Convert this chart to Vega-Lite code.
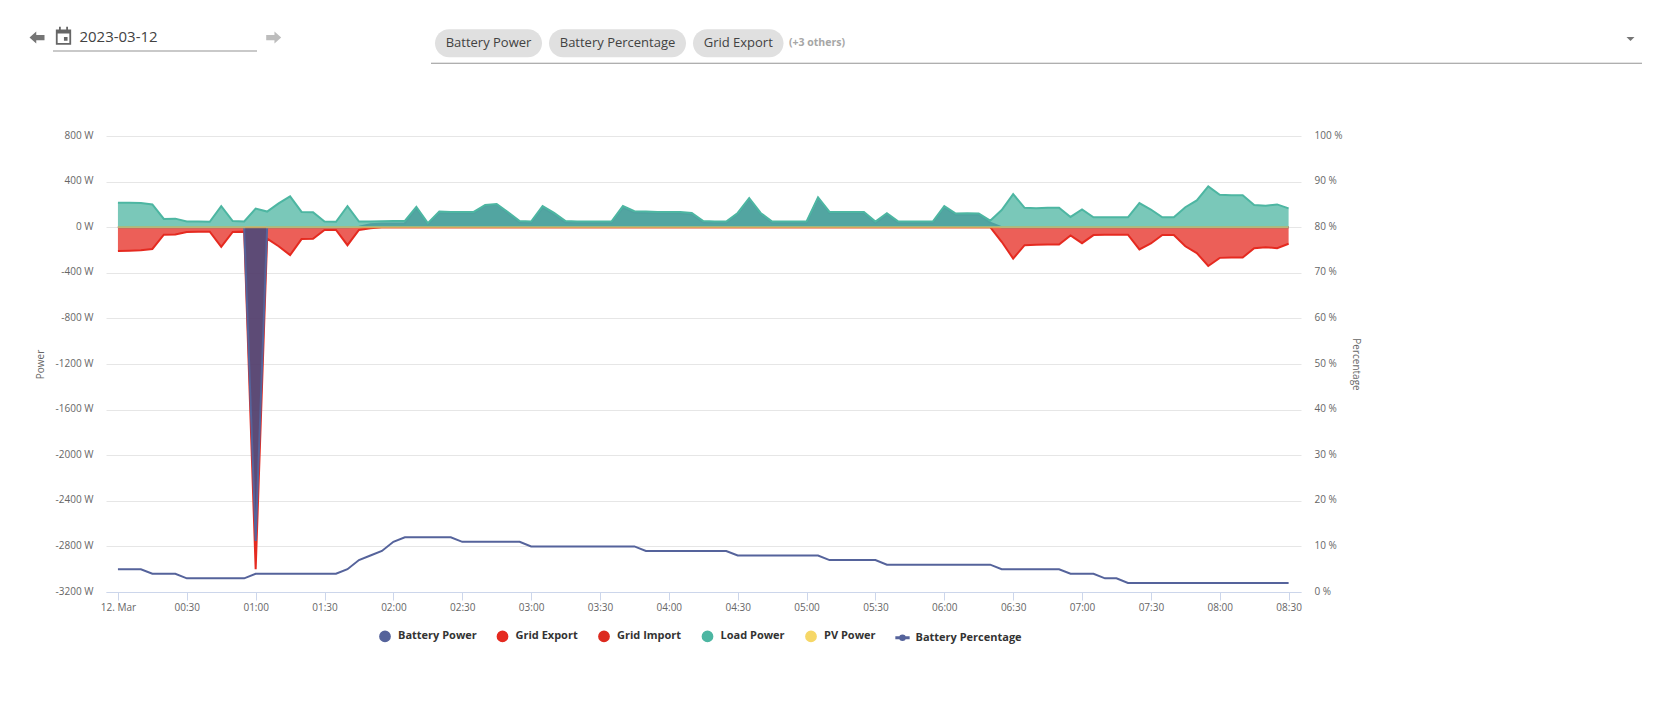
{
"$schema":"https://vega.github.io/schema/vega-lite/v6.json",
"width":1195,"height":456,
"autosize":{"type":"none"},
"padding":{"left":106,"top":136,"right":357,"bottom":135},
"background":"white",
"config":{"view":{"stroke":null},"font":"Open Sans"},
"datasets":{
"power":[
{"time":"2023-03-12T00:00:00Z","Battery Power":0,"Grid Export":-209,"Grid Import":0,"Load Power":215,"PV Power":0,"Battery Percentage":5},
{"time":"2023-03-12T00:05:00Z","Battery Power":0,"Grid Export":-207,"Grid Import":0,"Load Power":215,"PV Power":0,"Battery Percentage":5},
{"time":"2023-03-12T00:10:00Z","Battery Power":0,"Grid Export":-203,"Grid Import":0,"Load Power":212,"PV Power":0,"Battery Percentage":5},
{"time":"2023-03-12T00:15:00Z","Battery Power":0,"Grid Export":-191,"Grid Import":0,"Load Power":200,"PV Power":0,"Battery Percentage":4},
{"time":"2023-03-12T00:20:00Z","Battery Power":0,"Grid Export":-66,"Grid Import":0,"Load Power":72,"PV Power":0,"Battery Percentage":4},
{"time":"2023-03-12T00:25:00Z","Battery Power":0,"Grid Export":-63,"Grid Import":0,"Load Power":75,"PV Power":0,"Battery Percentage":4},
{"time":"2023-03-12T00:30:00Z","Battery Power":0,"Grid Export":-42,"Grid Import":0,"Load Power":50,"PV Power":0,"Battery Percentage":3},
{"time":"2023-03-12T00:35:00Z","Battery Power":0,"Grid Export":-39,"Grid Import":0,"Load Power":50,"PV Power":0,"Battery Percentage":3},
{"time":"2023-03-12T00:40:00Z","Battery Power":0,"Grid Export":-39,"Grid Import":0,"Load Power":48,"PV Power":0,"Battery Percentage":3},
{"time":"2023-03-12T00:45:00Z","Battery Power":0,"Grid Export":-173,"Grid Import":0,"Load Power":185,"PV Power":0,"Battery Percentage":3},
{"time":"2023-03-12T00:50:00Z","Battery Power":0,"Grid Export":-42,"Grid Import":0,"Load Power":54,"PV Power":0,"Battery Percentage":3},
{"time":"2023-03-12T00:55:00Z","Battery Power":0,"Grid Export":-39,"Grid Import":0,"Load Power":50,"PV Power":0,"Battery Percentage":3},
{"time":"2023-03-12T01:00:00Z","Battery Power":-2752,"Grid Export":-3000,"Grid Import":0,"Load Power":164,"PV Power":0,"Battery Percentage":4},
{"time":"2023-03-12T01:05:00Z","Battery Power":0,"Grid Export":-100,"Grid Import":0,"Load Power":137,"PV Power":0,"Battery Percentage":4},
{"time":"2023-03-12T01:10:00Z","Battery Power":0,"Grid Export":-167,"Grid Import":0,"Load Power":209,"PV Power":0,"Battery Percentage":4},
{"time":"2023-03-12T01:15:00Z","Battery Power":0,"Grid Export":-245,"Grid Import":0,"Load Power":270,"PV Power":0,"Battery Percentage":4},
{"time":"2023-03-12T01:20:00Z","Battery Power":0,"Grid Export":-104,"Grid Import":0,"Load Power":134,"PV Power":0,"Battery Percentage":4},
{"time":"2023-03-12T01:25:00Z","Battery Power":0,"Grid Export":-101,"Grid Import":0,"Load Power":131,"PV Power":0,"Battery Percentage":4},
{"time":"2023-03-12T01:30:00Z","Battery Power":0,"Grid Export":-24,"Grid Import":0,"Load Power":50,"PV Power":0,"Battery Percentage":4},
{"time":"2023-03-12T01:35:00Z","Battery Power":0,"Grid Export":-24,"Grid Import":0,"Load Power":48,"PV Power":0,"Battery Percentage":4},
{"time":"2023-03-12T01:40:00Z","Battery Power":0,"Grid Export":-158,"Grid Import":0,"Load Power":185,"PV Power":0,"Battery Percentage":5},
{"time":"2023-03-12T01:45:00Z","Battery Power":5,"Grid Export":-24,"Grid Import":0,"Load Power":50,"PV Power":0,"Battery Percentage":7},
{"time":"2023-03-12T01:50:00Z","Battery Power":25,"Grid Export":-9,"Grid Import":0,"Load Power":50,"PV Power":0,"Battery Percentage":8},
{"time":"2023-03-12T01:55:00Z","Battery Power":32,"Grid Export":0,"Grid Import":0,"Load Power":52,"PV Power":0,"Battery Percentage":9},
{"time":"2023-03-12T02:00:00Z","Battery Power":33,"Grid Export":0,"Grid Import":0,"Load Power":55,"PV Power":0,"Battery Percentage":11},
{"time":"2023-03-12T02:05:00Z","Battery Power":35,"Grid Export":0,"Grid Import":0,"Load Power":55,"PV Power":0,"Battery Percentage":12},
{"time":"2023-03-12T02:10:00Z","Battery Power":165,"Grid Export":0,"Grid Import":0,"Load Power":179,"PV Power":0,"Battery Percentage":12},
{"time":"2023-03-12T02:15:00Z","Battery Power":25,"Grid Export":0,"Grid Import":0,"Load Power":36,"PV Power":0,"Battery Percentage":12},
{"time":"2023-03-12T02:20:00Z","Battery Power":125,"Grid Export":0,"Grid Import":0,"Load Power":137,"PV Power":0,"Battery Percentage":12},
{"time":"2023-03-12T02:25:00Z","Battery Power":122,"Grid Export":0,"Grid Import":0,"Load Power":134,"PV Power":0,"Battery Percentage":12},
{"time":"2023-03-12T02:30:00Z","Battery Power":122,"Grid Export":0,"Grid Import":0,"Load Power":134,"PV Power":0,"Battery Percentage":11},
{"time":"2023-03-12T02:35:00Z","Battery Power":122,"Grid Export":0,"Grid Import":0,"Load Power":134,"PV Power":0,"Battery Percentage":11},
{"time":"2023-03-12T02:40:00Z","Battery Power":188,"Grid Export":0,"Grid Import":0,"Load Power":195,"PV Power":0,"Battery Percentage":11},
{"time":"2023-03-12T02:45:00Z","Battery Power":197,"Grid Export":0,"Grid Import":0,"Load Power":204,"PV Power":0,"Battery Percentage":11},
{"time":"2023-03-12T02:50:00Z","Battery Power":120,"Grid Export":0,"Grid Import":0,"Load Power":131,"PV Power":0,"Battery Percentage":11},
{"time":"2023-03-12T02:55:00Z","Battery Power":42,"Grid Export":0,"Grid Import":0,"Load Power":54,"PV Power":0,"Battery Percentage":11},
{"time":"2023-03-12T03:00:00Z","Battery Power":38,"Grid Export":0,"Grid Import":0,"Load Power":50,"PV Power":0,"Battery Percentage":10},
{"time":"2023-03-12T03:05:00Z","Battery Power":172,"Grid Export":0,"Grid Import":0,"Load Power":185,"PV Power":0,"Battery Percentage":10},
{"time":"2023-03-12T03:10:00Z","Battery Power":113,"Grid Export":0,"Grid Import":0,"Load Power":125,"PV Power":0,"Battery Percentage":10},
{"time":"2023-03-12T03:15:00Z","Battery Power":42,"Grid Export":0,"Grid Import":0,"Load Power":54,"PV Power":0,"Battery Percentage":10},
{"time":"2023-03-12T03:20:00Z","Battery Power":38,"Grid Export":0,"Grid Import":0,"Load Power":50,"PV Power":0,"Battery Percentage":10},
{"time":"2023-03-12T03:25:00Z","Battery Power":38,"Grid Export":0,"Grid Import":0,"Load Power":50,"PV Power":0,"Battery Percentage":10},
{"time":"2023-03-12T03:30:00Z","Battery Power":38,"Grid Export":0,"Grid Import":0,"Load Power":50,"PV Power":0,"Battery Percentage":10},
{"time":"2023-03-12T03:35:00Z","Battery Power":38,"Grid Export":0,"Grid Import":0,"Load Power":50,"PV Power":0,"Battery Percentage":10},
{"time":"2023-03-12T03:40:00Z","Battery Power":172,"Grid Export":0,"Grid Import":0,"Load Power":185,"PV Power":0,"Battery Percentage":10},
{"time":"2023-03-12T03:45:00Z","Battery Power":128,"Grid Export":0,"Grid Import":0,"Load Power":140,"PV Power":0,"Battery Percentage":10},
{"time":"2023-03-12T03:50:00Z","Battery Power":125,"Grid Export":0,"Grid Import":0,"Load Power":137,"PV Power":0,"Battery Percentage":9},
{"time":"2023-03-12T03:55:00Z","Battery Power":122,"Grid Export":0,"Grid Import":0,"Load Power":134,"PV Power":0,"Battery Percentage":9},
{"time":"2023-03-12T04:00:00Z","Battery Power":122,"Grid Export":0,"Grid Import":0,"Load Power":134,"PV Power":0,"Battery Percentage":9},
{"time":"2023-03-12T04:05:00Z","Battery Power":122,"Grid Export":0,"Grid Import":0,"Load Power":134,"PV Power":0,"Battery Percentage":9},
{"time":"2023-03-12T04:10:00Z","Battery Power":113,"Grid Export":0,"Grid Import":0,"Load Power":125,"PV Power":0,"Battery Percentage":9},
{"time":"2023-03-12T04:15:00Z","Battery Power":42,"Grid Export":0,"Grid Import":0,"Load Power":54,"PV Power":0,"Battery Percentage":9},
{"time":"2023-03-12T04:20:00Z","Battery Power":38,"Grid Export":0,"Grid Import":0,"Load Power":50,"PV Power":0,"Battery Percentage":9},
{"time":"2023-03-12T04:25:00Z","Battery Power":38,"Grid Export":0,"Grid Import":0,"Load Power":50,"PV Power":0,"Battery Percentage":9},
{"time":"2023-03-12T04:30:00Z","Battery Power":113,"Grid Export":0,"Grid Import":0,"Load Power":125,"PV Power":0,"Battery Percentage":8},
{"time":"2023-03-12T04:35:00Z","Battery Power":243,"Grid Export":0,"Grid Import":0,"Load Power":255,"PV Power":0,"Battery Percentage":8},
{"time":"2023-03-12T04:40:00Z","Battery Power":113,"Grid Export":0,"Grid Import":0,"Load Power":125,"PV Power":0,"Battery Percentage":8},
{"time":"2023-03-12T04:45:00Z","Battery Power":38,"Grid Export":0,"Grid Import":0,"Load Power":50,"PV Power":0,"Battery Percentage":8},
{"time":"2023-03-12T04:50:00Z","Battery Power":38,"Grid Export":0,"Grid Import":0,"Load Power":50,"PV Power":0,"Battery Percentage":8},
{"time":"2023-03-12T04:55:00Z","Battery Power":38,"Grid Export":0,"Grid Import":0,"Load Power":50,"PV Power":0,"Battery Percentage":8},
{"time":"2023-03-12T05:00:00Z","Battery Power":38,"Grid Export":0,"Grid Import":0,"Load Power":50,"PV Power":0,"Battery Percentage":8},
{"time":"2023-03-12T05:05:00Z","Battery Power":250,"Grid Export":0,"Grid Import":0,"Load Power":262,"PV Power":0,"Battery Percentage":8},
{"time":"2023-03-12T05:10:00Z","Battery Power":122,"Grid Export":0,"Grid Import":0,"Load Power":134,"PV Power":0,"Battery Percentage":7},
{"time":"2023-03-12T05:15:00Z","Battery Power":122,"Grid Export":0,"Grid Import":0,"Load Power":134,"PV Power":0,"Battery Percentage":7},
{"time":"2023-03-12T05:20:00Z","Battery Power":122,"Grid Export":0,"Grid Import":0,"Load Power":134,"PV Power":0,"Battery Percentage":7},
{"time":"2023-03-12T05:25:00Z","Battery Power":122,"Grid Export":0,"Grid Import":0,"Load Power":134,"PV Power":0,"Battery Percentage":7},
{"time":"2023-03-12T05:30:00Z","Battery Power":38,"Grid Export":0,"Grid Import":0,"Load Power":50,"PV Power":0,"Battery Percentage":7},
{"time":"2023-03-12T05:35:00Z","Battery Power":110,"Grid Export":0,"Grid Import":0,"Load Power":122,"PV Power":0,"Battery Percentage":6},
{"time":"2023-03-12T05:40:00Z","Battery Power":38,"Grid Export":0,"Grid Import":0,"Load Power":50,"PV Power":0,"Battery Percentage":6},
{"time":"2023-03-12T05:45:00Z","Battery Power":38,"Grid Export":0,"Grid Import":0,"Load Power":50,"PV Power":0,"Battery Percentage":6},
{"time":"2023-03-12T05:50:00Z","Battery Power":38,"Grid Export":0,"Grid Import":0,"Load Power":50,"PV Power":0,"Battery Percentage":6},
{"time":"2023-03-12T05:55:00Z","Battery Power":38,"Grid Export":0,"Grid Import":0,"Load Power":50,"PV Power":0,"Battery Percentage":6},
{"time":"2023-03-12T06:00:00Z","Battery Power":173,"Grid Export":0,"Grid Import":0,"Load Power":185,"PV Power":0,"Battery Percentage":6},
{"time":"2023-03-12T06:05:00Z","Battery Power":110,"Grid Export":0,"Grid Import":0,"Load Power":120,"PV Power":0,"Battery Percentage":6},
{"time":"2023-03-12T06:10:00Z","Battery Power":110,"Grid Export":0,"Grid Import":0,"Load Power":122,"PV Power":0,"Battery Percentage":6},
{"time":"2023-03-12T06:15:00Z","Battery Power":110,"Grid Export":0,"Grid Import":0,"Load Power":120,"PV Power":0,"Battery Percentage":6},
{"time":"2023-03-12T06:20:00Z","Battery Power":40,"Grid Export":0,"Grid Import":0,"Load Power":57,"PV Power":0,"Battery Percentage":6},
{"time":"2023-03-12T06:25:00Z","Battery Power":0,"Grid Export":-128,"Grid Import":0,"Load Power":150,"PV Power":0,"Battery Percentage":5},
{"time":"2023-03-12T06:30:00Z","Battery Power":0,"Grid Export":-275,"Grid Import":0,"Load Power":290,"PV Power":0,"Battery Percentage":5},
{"time":"2023-03-12T06:35:00Z","Battery Power":0,"Grid Export":-158,"Grid Import":0,"Load Power":170,"PV Power":0,"Battery Percentage":5},
{"time":"2023-03-12T06:40:00Z","Battery Power":0,"Grid Export":-155,"Grid Import":0,"Load Power":167,"PV Power":0,"Battery Percentage":5},
{"time":"2023-03-12T06:45:00Z","Battery Power":0,"Grid Export":-152,"Grid Import":0,"Load Power":170,"PV Power":0,"Battery Percentage":5},
{"time":"2023-03-12T06:50:00Z","Battery Power":0,"Grid Export":-152,"Grid Import":0,"Load Power":170,"PV Power":0,"Battery Percentage":5},
{"time":"2023-03-12T06:55:00Z","Battery Power":0,"Grid Export":-72,"Grid Import":0,"Load Power":90,"PV Power":0,"Battery Percentage":4},
{"time":"2023-03-12T07:00:00Z","Battery Power":0,"Grid Export":-140,"Grid Import":0,"Load Power":155,"PV Power":0,"Battery Percentage":4},
{"time":"2023-03-12T07:05:00Z","Battery Power":0,"Grid Export":-69,"Grid Import":0,"Load Power":87,"PV Power":0,"Battery Percentage":4},
{"time":"2023-03-12T07:10:00Z","Battery Power":0,"Grid Export":-66,"Grid Import":0,"Load Power":87,"PV Power":0,"Battery Percentage":3},
{"time":"2023-03-12T07:15:00Z","Battery Power":0,"Grid Export":-66,"Grid Import":0,"Load Power":87,"PV Power":0,"Battery Percentage":3},
{"time":"2023-03-12T07:20:00Z","Battery Power":0,"Grid Export":-66,"Grid Import":0,"Load Power":87,"PV Power":0,"Battery Percentage":2},
{"time":"2023-03-12T07:25:00Z","Battery Power":0,"Grid Export":-195,"Grid Import":0,"Load Power":212,"PV Power":0,"Battery Percentage":2},
{"time":"2023-03-12T07:30:00Z","Battery Power":0,"Grid Export":-143,"Grid Import":0,"Load Power":155,"PV Power":0,"Battery Percentage":2},
{"time":"2023-03-12T07:35:00Z","Battery Power":0,"Grid Export":-69,"Grid Import":0,"Load Power":87,"PV Power":0,"Battery Percentage":2},
{"time":"2023-03-12T07:40:00Z","Battery Power":0,"Grid Export":-69,"Grid Import":0,"Load Power":87,"PV Power":0,"Battery Percentage":2},
{"time":"2023-03-12T07:45:00Z","Battery Power":0,"Grid Export":-167,"Grid Import":0,"Load Power":175,"PV Power":0,"Battery Percentage":2},
{"time":"2023-03-12T07:50:00Z","Battery Power":0,"Grid Export":-227,"Grid Import":0,"Load Power":235,"PV Power":0,"Battery Percentage":2},
{"time":"2023-03-12T07:55:00Z","Battery Power":0,"Grid Export":-340,"Grid Import":0,"Load Power":358,"PV Power":0,"Battery Percentage":2},
{"time":"2023-03-12T08:00:00Z","Battery Power":0,"Grid Export":-269,"Grid Import":0,"Load Power":285,"PV Power":0,"Battery Percentage":2},
{"time":"2023-03-12T08:05:00Z","Battery Power":0,"Grid Export":-266,"Grid Import":0,"Load Power":280,"PV Power":0,"Battery Percentage":2},
{"time":"2023-03-12T08:10:00Z","Battery Power":0,"Grid Export":-266,"Grid Import":0,"Load Power":280,"PV Power":0,"Battery Percentage":2},
{"time":"2023-03-12T08:15:00Z","Battery Power":0,"Grid Export":-185,"Grid Import":0,"Load Power":195,"PV Power":0,"Battery Percentage":2},
{"time":"2023-03-12T08:20:00Z","Battery Power":0,"Grid Export":-175,"Grid Import":0,"Load Power":188,"PV Power":0,"Battery Percentage":2},
{"time":"2023-03-12T08:25:00Z","Battery Power":0,"Grid Export":-185,"Grid Import":0,"Load Power":200,"PV Power":0,"Battery Percentage":2},
{"time":"2023-03-12T08:30:00Z","Battery Power":0,"Grid Export":-145,"Grid Import":0,"Load Power":165,"PV Power":0,"Battery Percentage":2}
],
"controls":[
{"order":1,"control":"Previous day"},
{"order":2,"control":"Calendar"},
{"order":3,"control":"2023-03-12"},
{"order":4,"control":"Date underline"},
{"order":5,"control":"Next day"},
{"order":6,"control":"Battery Power"},
{"order":7,"control":"Battery Percentage"},
{"order":8,"control":"Grid Export"},
{"order":9,"control":"(+3 others)"},
{"order":10,"control":"Select underline"},
{"order":11,"control":"Dropdown"}
]
},
"resolve":{"scale":{"x":"independent","y":"independent"},"axis":{"x":"independent","y":"independent"}},
"layer":[
{
"data":{"name":"power"},
"transform":[{"fold":["Battery Power","Grid Export","Grid Import","Load Power","PV Power","Battery Percentage"],"as":["series","value"]},{"filter":"datum.series !== 'Battery Percentage'"}],
"encoding":{
"x":{"field":"time","type":"temporal","title":null,
"scale":{"type":"utc","domain":["2023-03-11T23:54:48Z","2023-03-12T08:35:24Z"]},
"axis":{"values":["2023-03-12T00:00:00Z","2023-03-12T00:30:00Z","2023-03-12T01:00:00Z","2023-03-12T01:30:00Z","2023-03-12T02:00:00Z","2023-03-12T02:30:00Z","2023-03-12T03:00:00Z","2023-03-12T03:30:00Z","2023-03-12T04:00:00Z","2023-03-12T04:30:00Z","2023-03-12T05:00:00Z","2023-03-12T05:30:00Z","2023-03-12T06:00:00Z","2023-03-12T06:30:00Z","2023-03-12T07:00:00Z","2023-03-12T07:30:00Z","2023-03-12T08:00:00Z","2023-03-12T08:30:00Z"],"grid":false,"domainColor":"#ccd6eb","tickColor":"#ccd6eb","tickSize":8,"labelPadding":2,"labelFontSize":10,"labelColor":"#666666","labelFont":"Open Sans","labelFlush":false,"labelOverlap":false,"labelExpr":"utcFormat(datum.value,'%H:%M')=='00:00'?'12. Mar':utcFormat(datum.value,'%H:%M')"}},
"y":{"field":"value","type":"quantitative","stack":null,"title":"Power",
"scale":{"domain":[-3200,800],"nice":false,"zero":false},
"axis":{"values":[800,400,0,-400,-800,-1200,-1600,-2000,-2400,-2800,-3200],"gridColor":"#e6e6e6","domain":false,"ticks":false,"labelPadding":13,"labelOffset":-1,"labelFontSize":10,"labelColor":"#666666","labelFont":"Open Sans","labelExpr":"datum.value + ' W'","titleFont":"Open Sans","titleFontSize":10,"titleFontWeight":"normal","titleColor":"#666666","titlePadding":10}},
"color":{"field":"series","type":"nominal","title":null,
"legend":{"orient":"none","legendX":273,"legendY":494,"direction":"horizontal","columns":6,"columnPadding":16.5,"symbolSize":105,"symbolOpacity":1,"labelFont":"Open Sans","labelFontSize":11,"labelFontWeight":"bold","labelColor":"#333333","labelOffset":7,"title":null},
"scale":{"domain":["Battery Power","Grid Export","Grid Import","Load Power","PV Power","Battery Percentage"],"range":["#55639b","#e52a20","#dc2a1f","#4db6a2","#f6d767","#55639b"]}}
},
"layer":[
{"transform":[{"filter":"datum.series === 'Grid Export' || datum.series === 'Grid Import'"}],"mark":{"type":"area","fillOpacity":0.75,"line":{"strokeWidth":2}}},
{"transform":[{"filter":"datum.series === 'Battery Power'"}],"mark":{"type":"area","fillOpacity":0.75,"color":"#2e4480"},"encoding":{"color":{"value":"#2e4480"}}},
{"transform":[{"filter":"datum.series === 'Battery Power'"}],"mark":{"type":"line","strokeWidth":2}},
{"transform":[{"filter":"datum.series === 'Load Power'"}],"mark":{"type":"area","fillOpacity":0.75,"line":{"strokeWidth":2}}},
{"transform":[{"filter":"datum.series === 'PV Power'"}],"mark":{"type":"area","fillOpacity":0.75,"line":{"strokeWidth":2,"strokeOpacity":0.65}}}
]
},
{
"data":{"name":"power"},
"transform":[{"fold":["Battery Power","Grid Export","Grid Import","Load Power","PV Power","Battery Percentage"],"as":["series","value"]},{"filter":"datum.series === 'Battery Percentage'"}],
"mark":{"type":"line","strokeWidth":2},
"encoding":{
"x":{"field":"time","type":"temporal","axis":null,"scale":{"type":"utc","domain":["2023-03-11T23:54:48Z","2023-03-12T08:35:24Z"]}},
"y":{"field":"value","type":"quantitative","title":"Percentage",
"scale":{"domain":[0,100],"nice":false,"zero":false},
"axis":{"orient":"right","values":[100,90,80,70,60,50,40,30,20,10,0],"grid":false,"domain":false,"ticks":false,"labelPadding":13,"labelOffset":-1,"labelFontSize":10,"labelColor":"#666666","labelFont":"Open Sans","labelExpr":"datum.value + ' %'","titleFont":"Open Sans","titleFontSize":10,"titleFontWeight":"normal","titleColor":"#666666","titleAngle":90,"titlePadding":8}},
"color":{"field":"series","type":"nominal","title":null,
"legend":{"orient":"none","legendX":273,"legendY":494,"direction":"horizontal","columns":6,"columnPadding":16.5,"symbolSize":105,"symbolOpacity":1,"labelFont":"Open Sans","labelFontSize":11,"labelFontWeight":"bold","labelColor":"#333333","labelOffset":7,"title":null}}
}
},
{
"data":{"name":"power"},
"transform":[{"fold":["Battery Power","Grid Export","Grid Import","Load Power","PV Power","Battery Percentage"],"as":["series","value"]}],
"mark":{"type":"point","filled":true,"opacity":0},
"encoding":{
"x":{"field":"time","type":"temporal","axis":null,"scale":{"type":"utc","domain":["2023-03-11T23:54:48Z","2023-03-12T08:35:24Z"]}},
"y":{"field":"value","type":"quantitative","axis":null,"scale":{"domain":[-3200,800],"nice":false,"zero":false}},
"color":{"field":"series","type":"nominal","title":null,
"legend":{"orient":"none","legendX":273,"legendY":494,"direction":"horizontal","columns":6,"columnPadding":16.5,"symbolSize":105,"symbolOpacity":1,"labelFont":"Open Sans","labelFontSize":11,"labelFontWeight":"bold","labelColor":"#333333","labelOffset":7,"title":null}},
"shape":{"field":"series","type":"nominal","title":null,
"scale":{"domain":["Battery Power","Grid Export","Grid Import","Load Power","PV Power","Battery Percentage"],"range":["circle","circle","circle","circle","circle","M-1.25,-0.13H1.25V0.13H-1.25ZM-0.5,0A0.5,0.5 0 1,1 0.5,0A0.5,0.5 0 1,1 -0.5,0Z"]},
"legend":{"orient":"none","legendX":273,"legendY":494,"direction":"horizontal","columns":6,"columnPadding":16.5,"symbolSize":105,"symbolOpacity":1,"labelFont":"Open Sans","labelFontSize":11,"labelFontWeight":"bold","labelColor":"#333333","labelOffset":7,"title":null}}
}
},
{
"data":{"name":"controls"},
"encoding":{
"x":{"field":"order","type":"quantitative","axis":null,"scale":{"domain":[1,2,3,4,5,6,7,8,9,10,11],"range":[-69,-42.5,-26.6,49,167.7,382.5,511.5,632.25,683,930.5,1524.5],"zero":false,"nice":false}},
"y":{"field":"order","type":"quantitative","axis":null,"scale":{"domain":[1,2,3,4,5,6,7,8,9,10,11],"range":[-98.5,-100.3,-99.5,-85,-98.5,-92.7,-92.7,-92.7,-92.7,-72.7,-97],"zero":false,"nice":false}}
},
"layer":[
{"transform":[{"filter":"datum.order === 6"}],"mark":{"type":"rect","width":107,"height":28,"cornerRadius":14,"color":"#e0e0e0"}},
{"transform":[{"filter":"datum.order === 7"}],"mark":{"type":"rect","width":137,"height":28,"cornerRadius":14,"color":"#e0e0e0"}},
{"transform":[{"filter":"datum.order === 8"}],"mark":{"type":"rect","width":90.5,"height":28,"cornerRadius":14,"color":"#e0e0e0"}},
{"transform":[{"filter":"datum.order === 4"}],"mark":{"type":"rect","width":204,"height":1,"color":"#949494"}},
{"transform":[{"filter":"datum.order === 10"}],"mark":{"type":"rect","width":1211,"height":1,"color":"#949494"}},
{"transform":[{"filter":"datum.order === 6 || datum.order === 7 || datum.order === 8"}],"mark":{"type":"text","font":"Open Sans","fontSize":13,"color":"#424242","align":"center","baseline":"middle"},"encoding":{"text":{"field":"control"}}},
{"transform":[{"filter":"datum.order === 3"}],"mark":{"type":"text","font":"Open Sans","fontSize":15,"color":"#424242","align":"left","baseline":"middle"},"encoding":{"text":{"field":"control"}}},
{"transform":[{"filter":"datum.order === 9"}],"mark":{"type":"text","font":"Open Sans","fontSize":10.5,"fontWeight":"bold","color":"#a6a6a6","align":"left","baseline":"middle"},"encoding":{"text":{"field":"control"}}},
{"transform":[{"filter":"datum.order === 1"}],"mark":{"type":"point","filled":true,"opacity":1,"size":225,"color":"#757575","shape":"M-1,0L-0.1,-0.8V-0.35H1V0.35H-0.1V0.8Z"}},
{"transform":[{"filter":"datum.order === 5"}],"mark":{"type":"point","filled":true,"opacity":1,"size":225,"color":"#bdbdbd","shape":"M1,0L0.1,-0.8V-0.35H-1V0.35H0.1V0.8Z"}},
{"transform":[{"filter":"datum.order === 2"}],"mark":{"type":"point","filled":true,"opacity":1,"size":324,"color":"#666666","shape":"M-0.85,-0.7H-0.5V-1H-0.3V-0.7H0.3V-1H0.5V-0.7H0.85V1H-0.85ZM-0.65,-0.25V0.8H0.65V-0.25ZM0.05,0.15H0.45V0.55H0.05Z"}},
{"transform":[{"filter":"datum.order === 11"}],"mark":{"type":"point","filled":true,"opacity":1,"size":64,"color":"#757575","shape":"M-1,-0.5H1L0,0.5Z"}}
]
}
]
}
